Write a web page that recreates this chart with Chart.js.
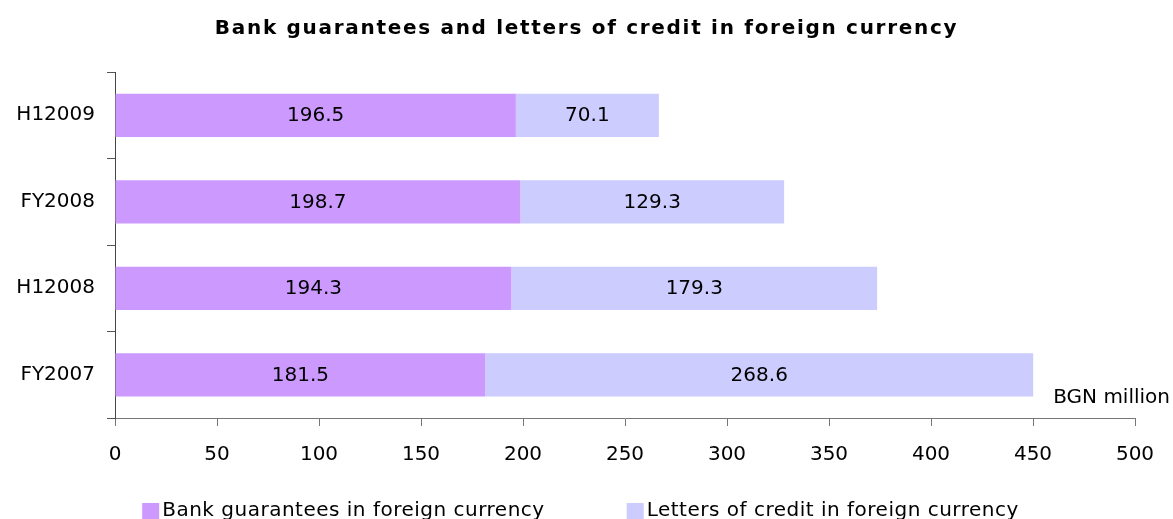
<!DOCTYPE html>
<html>
<head>
<meta charset="utf-8">
<script src="https://cdn.jsdelivr.net/npm/chart.js@4.4.1/dist/chart.umd.min.js"></script>
<style>
  html, body { margin: 0; padding: 0; background: #fff; overflow: hidden; }
  #wrap { width: 1173px; height: 530px; }
</style>
</head>
<body>
<div id="wrap"><canvas id="chart" width="1173" height="530"></canvas></div>
<script>
// categories top to bottom
const categories = ['H12009', 'FY2008', 'H12008', 'FY2007'];
const bankGuarantees = [196.5, 198.7, 194.3, 181.5];
const lettersOfCredit = [70.1, 129.3, 179.3, 268.6];
const seriesNames = ['Bank guarantees in foreign currency', 'Letters of credit in foreign currency'];
const seriesColors = ['#CC99FF', '#CCCCFF'];
const xTicks = [0, 50, 100, 150, 200, 250, 300, 350, 400, 450, 500];
const unitLabel = 'BGN million';
const titleText = 'Bank guarantees and letters of credit in foreign currency';

const FONT = "'DejaVu Sans', Verdana, sans-serif";

// titre espacé (le plugin title ne gère pas letterSpacing)
const spacedTitle = {
    id: 'spacedTitle',
    afterDraw(chart) {
        const ctx = chart.ctx;
        ctx.save();
        ctx.font = 'bold 20px ' + FONT;
        ctx.letterSpacing = '1.7px';
        ctx.fillStyle = '#000';
        ctx.textAlign = 'center';
        ctx.textBaseline = 'alphabetic';
        ctx.fillText(titleText, chart.width / 2, 34);
        ctx.restore();
    }
};

// valeurs au centre des segments
const valueLabels = {
    id: 'valueLabels',
    afterDatasetsDraw(chart) {
        const ctx = chart.ctx;
        ctx.save();
        ctx.font = '20px ' + FONT;
        ctx.fillStyle = '#000';
        ctx.textAlign = 'center';
        ctx.textBaseline = 'middle';
        chart.data.datasets.forEach((ds, i) => {
            chart.getDatasetMeta(i).data.forEach((bar, j) => {
                const p = bar.getProps(['x', 'y', 'base'], true);
                ctx.fillText(ds.data[j].toFixed(1), (p.x + p.base) / 2, p.y + 1);
            });
        });
        // unit label
        ctx.textAlign = 'right';
        ctx.fillText(unitLabel, chart.width - 3, chart.chartArea.bottom - 20);
        ctx.restore();
    }
};

// legend drawn by hand (wide gap between items)
const bottomLegend = {
    id: 'bottomLegend',
    afterDraw(chart) {
        const ctx = chart.ctx;
        ctx.save();
        ctx.font = '20px ' + FONT;
        ctx.letterSpacing = '0.5px';
        ctx.textBaseline = 'middle';
        ctx.textAlign = 'left';
        const box = 17, gapText = 3, gapItems = 82;
        const widths = seriesNames.map(n => box + gapText + ctx.measureText(n).width);
        const total = widths.reduce((a, b) => a + b, 0) + gapItems;
        let x = (chart.width - total) / 2 - 6;
        const y = 510;
        seriesNames.forEach((n, i) => {
            ctx.fillStyle = seriesColors[i];
            ctx.fillRect(x, y - 7, box, box);
            ctx.fillStyle = '#000';
            ctx.fillText(n, x + box + gapText, y + 1);
            x += widths[i] + gapItems;
        });
        ctx.restore();
    }
};

const ctx = document.getElementById('chart').getContext('2d');
const chart = new Chart(ctx, {
    type: 'bar',
    data: {
        labels: categories,
        datasets: [
            { label: seriesNames[0], data: bankGuarantees, backgroundColor: seriesColors[0], borderWidth: 0 },
            { label: seriesNames[1], data: lettersOfCredit, backgroundColor: seriesColors[1], borderWidth: 0 }
        ]
    },
    options: {
        indexAxis: 'y',
        responsive: false,
        animation: false,
        devicePixelRatio: 1,
        barPercentage: 0.5,
        categoryPercentage: 1,
        layout: { padding: { left: 0, right: 38, top: 72, bottom: 52 } },
        plugins: {
            legend: { display: false },
            tooltip: { enabled: false },
            title: { display: false }
        },
        scales: {
            x: {
                stacked: true,
                min: 0,
                max: 500,
                afterBuildTicks(scale) { scale.ticks = xTicks.map(v => ({ value: v })); },
                afterFit(scale) { scale.height = 60; },
                grid: { drawOnChartArea: false, tickLength: 8, color: '#777' },
                border: { color: '#777', width: 1 },
                ticks: { color: '#000', font: { family: FONT, size: 20 }, padding: 17, maxRotation: 0 }
            },
            y: {
                stacked: true,
                afterFit(scale) { scale.width = 115; },
                grid: { drawOnChartArea: false, offset: true, tickLength: 8, color: '#555' },
                border: { color: '#444', width: 1 },
                ticks: { color: '#000', font: { family: FONT, size: 20 }, padding: 12 }
            }
        }
    },
    plugins: [spacedTitle, valueLabels, bottomLegend]
});
</script>
</body>
</html>
